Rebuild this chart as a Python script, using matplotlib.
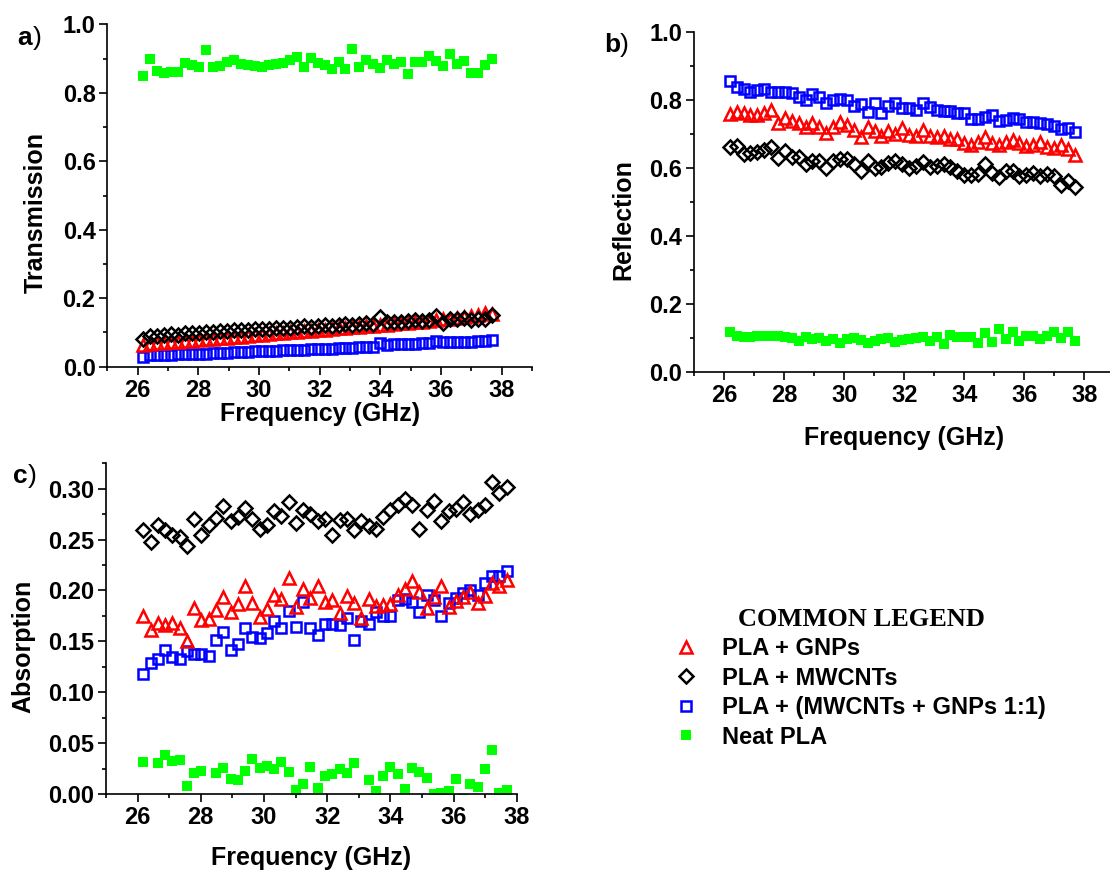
import numpy as np
import matplotlib
matplotlib.use('agg')
import matplotlib.pyplot as plt
from matplotlib.ticker import MultipleLocator, FormatStrFormatter

plt.rcParams['font.family'] = ['Liberation Sans', 'DejaVu Sans']
plt.rcParams['font.weight'] = 'bold'
plt.rcParams['axes.labelweight'] = 'bold'

# frequency grid (GHz), shared by every series
freq = [26.18, 26.41, 26.64, 26.87, 27.10, 27.33, 27.56, 27.79, 28.02, 28.25,
        28.48, 28.71, 28.94, 29.17, 29.40, 29.63, 29.86, 30.09, 30.32, 30.55,
        30.78, 31.01, 31.24, 31.47, 31.70, 31.93, 32.16, 32.39, 32.62, 32.85,
        33.08, 33.31, 33.54, 33.77, 34.00, 34.23, 34.46, 34.69, 34.92, 35.15,
        35.38, 35.61, 35.84, 36.07, 36.30, 36.53, 36.76, 36.99, 37.22, 37.45,
        37.68]

labels = ['PLA + GNPs', 'PLA + MWCNTs', 'PLA + (MWCNTs + GNPs 1:1)', 'Neat PLA']

# a) transmission
trans_gnp = [0.063, 0.066, 0.068, 0.070, 0.071, 0.073, 0.075, 0.076, 0.078, 0.080,
             0.082, 0.083, 0.085, 0.087, 0.088, 0.090, 0.092, 0.093, 0.095, 0.097,
             0.098, 0.100, 0.102, 0.103, 0.105, 0.107, 0.108, 0.110, 0.112, 0.113,
             0.115, 0.117, 0.118, 0.120, 0.121, 0.123, 0.125, 0.127, 0.128, 0.130,
             0.132, 0.134, 0.136, 0.138, 0.140, 0.142, 0.145, 0.148, 0.151, 0.158,
             0.155]
trans_cnt = [0.082, 0.089, 0.090, 0.093, 0.095, 0.094, 0.097, 0.098, 0.099, 0.101,
             0.100, 0.104, 0.103, 0.106, 0.108, 0.107, 0.109, 0.111, 0.110, 0.113,
             0.114, 0.112, 0.116, 0.118, 0.117, 0.119, 0.121, 0.120, 0.123, 0.124,
             0.123, 0.126, 0.127, 0.125, 0.146, 0.130, 0.132, 0.131, 0.134, 0.135,
             0.133, 0.137, 0.148, 0.128, 0.140, 0.139, 0.141, 0.137, 0.140, 0.138,
             0.150]
trans_hyb = [0.029, 0.034, 0.034, 0.035, 0.035, 0.036, 0.036, 0.037, 0.038, 0.038,
             0.040, 0.041, 0.041, 0.043, 0.042, 0.044, 0.045, 0.045, 0.046, 0.045,
             0.048, 0.049, 0.048, 0.050, 0.051, 0.051, 0.052, 0.053, 0.054, 0.055,
             0.056, 0.057, 0.057, 0.058, 0.068, 0.064, 0.065, 0.066, 0.066, 0.067,
             0.068, 0.070, 0.074, 0.071, 0.072, 0.071, 0.072, 0.073, 0.075, 0.076,
             0.079]
trans_pla = [0.850, 0.898, 0.864, 0.857, 0.860, 0.862, 0.886, 0.880, 0.874, 0.924,
             0.876, 0.878, 0.889, 0.896, 0.884, 0.880, 0.877, 0.874, 0.880, 0.883,
             0.886, 0.896, 0.904, 0.876, 0.901, 0.886, 0.881, 0.870, 0.889, 0.870,
             0.928, 0.875, 0.896, 0.884, 0.872, 0.896, 0.884, 0.889, 0.855, 0.889,
             0.889, 0.907, 0.894, 0.878, 0.913, 0.884, 0.894, 0.859, 0.859, 0.882,
             0.900]

# b) reflection
refl_gnp = [0.758, 0.765, 0.760, 0.755, 0.755, 0.760, 0.770, 0.731, 0.746, 0.739,
            0.731, 0.721, 0.733, 0.721, 0.702, 0.721, 0.736, 0.726, 0.711, 0.690,
            0.721, 0.707, 0.694, 0.709, 0.700, 0.716, 0.697, 0.694, 0.711, 0.694,
            0.690, 0.694, 0.684, 0.684, 0.674, 0.667, 0.677, 0.690, 0.674, 0.667,
            0.677, 0.682, 0.672, 0.664, 0.667, 0.677, 0.662, 0.660, 0.668, 0.655,
            0.638]
refl_cnt = [0.661, 0.664, 0.641, 0.643, 0.648, 0.653, 0.661, 0.628, 0.651, 0.631,
            0.631, 0.612, 0.621, 0.621, 0.599, 0.621, 0.626, 0.626, 0.611, 0.592,
            0.621, 0.599, 0.602, 0.614, 0.621, 0.611, 0.599, 0.606, 0.616, 0.604,
            0.606, 0.612, 0.602, 0.590, 0.579, 0.579, 0.582, 0.612, 0.584, 0.573,
            0.590, 0.592, 0.575, 0.579, 0.586, 0.577, 0.581, 0.575, 0.550, 0.563,
            0.545]
refl_hyb = [0.856, 0.839, 0.832, 0.822, 0.829, 0.831, 0.822, 0.824, 0.824, 0.819,
            0.809, 0.800, 0.816, 0.809, 0.790, 0.800, 0.802, 0.800, 0.782, 0.788,
            0.765, 0.790, 0.760, 0.783, 0.791, 0.775, 0.777, 0.771, 0.791, 0.780,
            0.771, 0.768, 0.768, 0.760, 0.760, 0.743, 0.743, 0.751, 0.756, 0.738,
            0.740, 0.747, 0.744, 0.734, 0.734, 0.733, 0.728, 0.722, 0.713, 0.716,
            0.705]
refl_pla = [0.119, 0.107, 0.105, 0.105, 0.107, 0.107, 0.107, 0.106, 0.103, 0.100,
            0.091, 0.105, 0.097, 0.100, 0.091, 0.097, 0.086, 0.097, 0.100, 0.095,
            0.086, 0.092, 0.097, 0.100, 0.089, 0.095, 0.097, 0.100, 0.103, 0.093,
            0.103, 0.083, 0.110, 0.103, 0.103, 0.103, 0.086, 0.115, 0.088, 0.126,
            0.097, 0.117, 0.093, 0.107, 0.107, 0.097, 0.107, 0.117, 0.100, 0.119,
            0.093]

# c) absorption
abs_gnp = [0.175, 0.161, 0.168, 0.166, 0.168, 0.163, 0.150, 0.183, 0.171, 0.172,
           0.181, 0.194, 0.179, 0.187, 0.204, 0.188, 0.174, 0.182, 0.196, 0.192,
           0.212, 0.184, 0.201, 0.193, 0.204, 0.189, 0.191, 0.178, 0.195, 0.188,
           0.173, 0.192, 0.185, 0.186, 0.187, 0.196, 0.201, 0.209, 0.199, 0.183,
           0.194, 0.204, 0.184, 0.190, 0.194, 0.199, 0.188, 0.195, 0.207, 0.204,
           0.210]
abs_cnt = [0.259, 0.248, 0.264, 0.259, 0.255, 0.253, 0.244, 0.270, 0.255, 0.264,
           0.271, 0.283, 0.268, 0.272, 0.281, 0.270, 0.260, 0.264, 0.278, 0.273,
           0.287, 0.266, 0.279, 0.275, 0.268, 0.270, 0.255, 0.269, 0.270, 0.259,
           0.268, 0.263, 0.260, 0.272, 0.279, 0.284, 0.290, 0.284, 0.260, 0.279,
           0.288, 0.268, 0.278, 0.280, 0.287, 0.275, 0.279, 0.284, 0.307, 0.296,
           0.302]
abs_hyb = [0.118, 0.129, 0.133, 0.142, 0.135, 0.133, 0.141, 0.138, 0.138, 0.136,
           0.151, 0.159, 0.142, 0.147, 0.163, 0.154, 0.153, 0.158, 0.170, 0.163,
           0.180, 0.164, 0.189, 0.163, 0.156, 0.167, 0.167, 0.166, 0.173, 0.151,
           0.170, 0.167, 0.179, 0.175, 0.175, 0.191, 0.192, 0.189, 0.179, 0.196,
           0.191, 0.175, 0.188, 0.193, 0.198, 0.200, 0.196, 0.207, 0.214, 0.214,
           0.219]
abs_pla = [0.031, -0.008, 0.030, 0.038, 0.032, 0.033, 0.008, 0.021, 0.023, -0.006,
           0.021, 0.026, 0.015, 0.014, 0.023, 0.034, 0.026, 0.028, 0.025, 0.031,
           0.022, 0.004, 0.010, 0.027, 0.006, 0.018, 0.020, 0.025, 0.021, 0.030,
           -0.010, 0.014, 0.003, 0.018, 0.027, 0.020, 0.005, 0.026, 0.022, 0.016,
           0.000, 0.001, 0.003, 0.015, -0.005, 0.010, 0.007, 0.025, 0.043, 0.001,
           0.004]

sty_gnp = dict(ls='none', marker='^', ms=9, mfc='none', mec='#ff0000', mew=1.8)
sty_cnt = dict(ls='none', marker='D', ms=7, mfc='none', mec='black', mew=1.8)
sty_hyb = dict(ls='none', marker='s', ms=7, mfc='none', mec='#0000ff', mew=1.8)
sty_pla = dict(ls='none', marker='s', ms=7, mfc='#00ff00', mec='#00ff00', mew=0)

W, H = 1110, 872
fig = plt.figure(figsize=(W/100, H/100), dpi=100)

def box(left, top, right, bottom):
    return [left/W, 1 - bottom/H, (right - left)/W, (bottom - top)/H]

ax_a = fig.add_axes(box(107.4, 24.3, 532, 366.7))
ax_b = fig.add_axes(box(694.3, 31.7, 1114.3, 372.3))
ax_c = fig.add_axes(box(106, 463.3, 516.8, 794))

panels = [(ax_a, trans_gnp, trans_cnt, trans_hyb, trans_pla, 'Transmission'),
          (ax_b, refl_gnp, refl_cnt, refl_hyb, refl_pla, 'Reflection'),
          (ax_c, abs_gnp, abs_cnt, abs_hyb, abs_pla, 'Absorption')]

handles = None
for ax, gnp, cnt, hyb, pla, ylab in panels:
    h_hyb, = ax.plot(freq, hyb, **sty_hyb)
    h_gnp, = ax.plot(freq, gnp, **sty_gnp)
    h_cnt, = ax.plot(freq, cnt, **sty_cnt)
    h_pla, = ax.plot(freq, pla, **sty_pla)
    handles = [h_gnp, h_cnt, h_hyb, h_pla]

    ax.spines['top'].set_visible(False)
    ax.spines['right'].set_visible(False)
    for s in ['left', 'bottom']:
        ax.spines[s].set_linewidth(1.2)
    ax.tick_params(which='major', direction='out', length=5.5, width=1.2, labelsize=17, pad=3)
    ax.tick_params(which='minor', direction='out', length=3, width=1.2)
    ax.xaxis.set_major_locator(MultipleLocator(2))
    ax.xaxis.set_minor_locator(MultipleLocator(1))
    ax.set_xlabel('Frequency (GHz)', fontsize=18)
    ax.set_ylabel(ylab, fontsize=18)
    ax.xaxis.label.set_va('center')
    ax.yaxis.label.set_va('center')

ax_a.set_xlim(25, 39)
ax_b.set_xlim(25, 39)
ax_c.set_xlim(25, 38)
for ax in (ax_a, ax_b):
    ax.set_ylim(0, 1.0)
    ax.yaxis.set_major_locator(MultipleLocator(0.2))
    ax.yaxis.set_minor_locator(MultipleLocator(0.1))
    ax.yaxis.set_major_formatter(FormatStrFormatter('%.1f'))
ax_c.set_ylim(0, 0.325)
ax_c.yaxis.set_major_locator(MultipleLocator(0.05))
ax_c.yaxis.set_minor_locator(MultipleLocator(0.025))
ax_c.yaxis.set_major_formatter(FormatStrFormatter('%.2f'))

ax_a.xaxis.set_label_coords(0.5, -0.137)
ax_a.yaxis.set_label_coords(-0.168, 0.449)
ax_b.xaxis.set_label_coords(0.5, -0.193)
ax_b.yaxis.set_label_coords(-0.170, 0.447)
ax_c.xaxis.set_label_coords(0.5, -0.1935)
ax_c.yaxis.set_label_coords(-0.200, 0.445)

# panel letters: bold letter, thin bracket
for letter, x, y in [('a', 17, 45), ('b', 604, 52), ('c', 12.5, 483)]:
    fig.text(x/W, 1 - y/H, letter, fontsize=19, weight='bold', va='baseline')
    fig.text((x + 15.5)/W, 1 - y/H, ')', fontsize=19, weight='normal', va='baseline')

leg = fig.legend(handles=handles, labels=labels, loc='upper left',
                 bbox_to_anchor=(677/W, 1 - 608/H), frameon=False, fontsize=17,
                 title='COMMON LEGEND',
                 title_fontproperties={'family': 'Liberation Serif', 'weight': 'bold', 'size': 19},
                 handlelength=0.8, handletextpad=1.1, labelspacing=0.27,
                 borderpad=0, borderaxespad=0)

fig.savefig('out.png', dpi=100)
